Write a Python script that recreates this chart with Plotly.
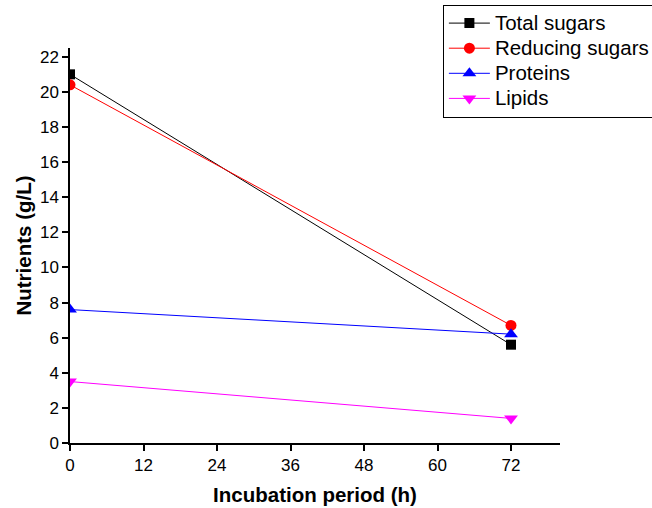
import plotly.graph_objects as go

# Nutrient levels at start and end of incubation
hours = [0, 72]
total_sugars = [21.0, 5.6]
reducing_sugars = [20.4, 6.7]
proteins = [7.6, 6.2]
lipids = [3.5, 1.4]

x_ticks = [0, 12, 24, 36, 48, 60, 72]
y_ticks = list(range(0, 23, 2))

series = [
    ("Total sugars", total_sugars, "#000000", "square", 10),
    ("Reducing sugars", reducing_sugars, "#ff0000", "circle", 11),
    ("Proteins", proteins, "#0000ff", "triangle-up", 12),
    ("Lipids", lipids, "#ff00ff", "triangle-down", 12),
]

fig = go.Figure()
for name, vals, color, symbol, size in series:
    fig.add_trace(go.Scatter(
        x=hours, y=vals, mode="lines+markers",
        # larger label text while keeping compact legend rows
        name=f'<span style="font-size:20.5px">{name}</span>',
        line=dict(color=color, width=1),
        marker=dict(symbol=symbol, size=size, color=color),
    ))

axis_common = dict(
    showgrid=False, zeroline=False, showline=True, linecolor="black",
    linewidth=1.5, ticks="outside", ticklen=6, tickwidth=1.5, tickcolor="black",
    tickfont=dict(family="Arial, Liberation Sans", size=17, color="black"),
    automargin=False,
)

fig.update_layout(
    width=652, height=508,
    margin=dict(l=70, r=92, t=48, b=65, autoexpand=False),
    paper_bgcolor="white", plot_bgcolor="white",
    font=dict(family="Arial, Liberation Sans", color="black"),
    xaxis=dict(range=[0, 80], tickvals=x_ticks,
               title=dict(text="<b>Incubation period (h)</b>", font=dict(size=20.5), standoff=13),
               **axis_common),
    yaxis=dict(range=[0, 22.5], tickvals=y_ticks,
               title=dict(text="<b>Nutrients (g/L)</b>", font=dict(size=20.5), standoff=3),
               **axis_common),
    legend=dict(x=0.761, y=1.11, xanchor="left", yanchor="top",
                bordercolor="black", borderwidth=1, bgcolor="white",
                font=dict(size=17, family="Arial, Liberation Sans"),
                tracegroupgap=0, itemwidth=41),
    showlegend=True,
)

fig.write_html("out.html")
